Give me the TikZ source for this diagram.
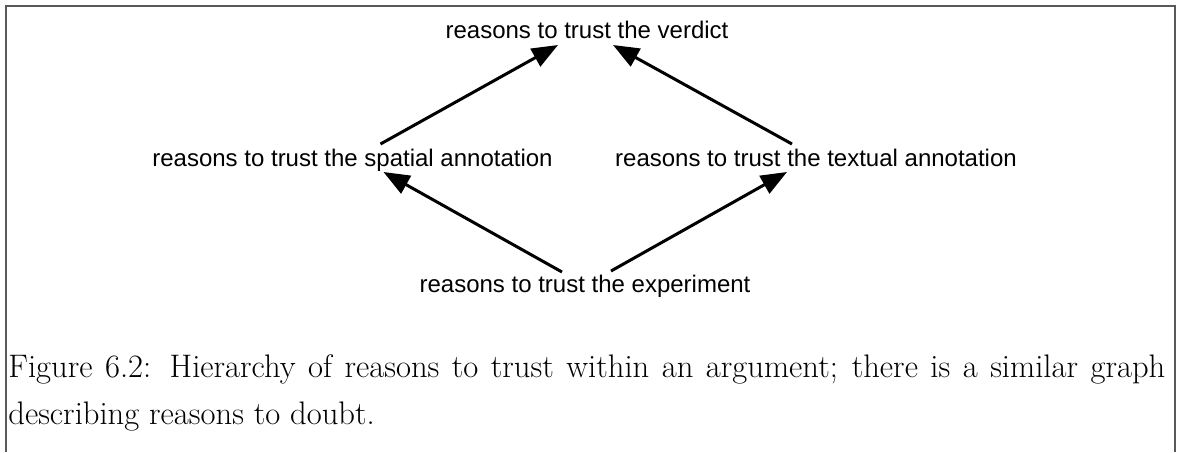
\documentclass[tikz,border=0pt]{standalone}
\usepackage{fontspec}
\newfontfamily\diagfont{Liberation Sans}
\usepackage{tikz}
\usetikzlibrary{positioning,arrows.meta,calc}

\begin{document}
\begin{tikzpicture}[
  x=0.5pt, y=-0.5pt,
  reason/.style={inner sep=0pt, anchor=base, font=\diagfont\fontsize{12}{14}\selectfont},
  arrow/.style={-{Triangle[length=13pt, width=10pt]}, line width=1.5pt},
  frame/.style={draw=black!65, line width=1pt},
  capt/.style={inner sep=0pt, anchor=north west, text width=578.5pt, align=justify,
    font=\fontsize{16.3}{23.5}\selectfont}
]
\useasboundingbox (0,0) rectangle (1179,452);

% open frame round the figure
\draw[frame] (5.5,452) -- (5.5,5.5) -- (1175,5.5) -- (1175,452);

\node[reason] (verdict) at (587,38) {reasons to trust the verdict};
\node[reason] (spatial) at (352.5,166) {reasons to trust the spatial annotation};
\node[reason] (textual) at (816,166) {reasons to trust the textual annotation};
\node[reason] (experiment) at (585,292) {reasons to trust the experiment};

\draw[arrow] ($(spatial.base)+(28,-22)$) -- ($(verdict.base)+(-29,7)$);
\draw[arrow] ($(textual.base)+(-24,-22)$) -- ($(verdict.base)+(26,7)$);
\draw[arrow] ($(experiment.base)+(-23,-20)$) -- ($(spatial.base)+(31,6)$);
\draw[arrow] ($(experiment.base)+(26,-21)$) -- ($(textual.base)+(-29,6)$);

\node[capt] (caption) at (8,354) {Figure 6.2: Hierarchy of reasons to trust within an argument; there is a similar graph\linebreak describing reasons to doubt.};

\end{tikzpicture}
\end{document}
